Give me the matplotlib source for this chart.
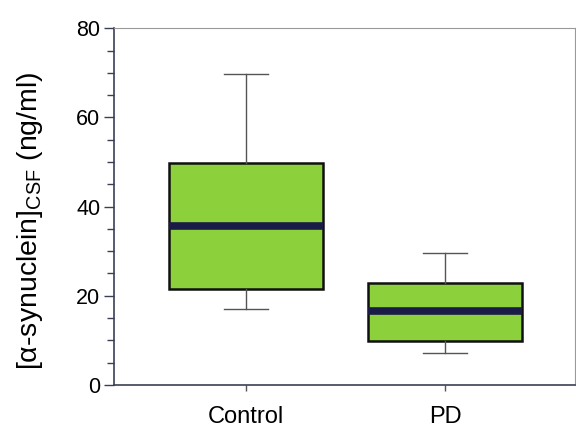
import matplotlib
matplotlib.use("Agg")
import matplotlib.pyplot as plt
from matplotlib.ticker import MultipleLocator

plt.rcParams['font.family'] = ['Liberation Sans', 'DejaVu Sans']
plt.rcParams['mathtext.fontset'] = 'custom'
plt.rcParams['mathtext.rm'] = 'Liberation Sans'

# data (ng/ml)
groups = ['Control', 'PD']
whislo = [17.0, 7.2]
q1 = [21.5, 9.9]
med = [35.6, 16.6]
q3 = [49.7, 22.9]
whishi = [69.8, 29.6]

stats = []
for i in range(len(groups)):
    stats.append(dict(label=groups[i], whislo=whislo[i], q1=q1[i], med=med[i],
                      q3=q3[i], whishi=whishi[i], fliers=[]))

fig = plt.figure(figsize=(5.76, 4.34), dpi=100)
ax = fig.add_axes([0.198, 0.113, 0.800, 0.822])

ax.bxp(stats, positions=[1, 2], widths=0.77, patch_artist=True, showfliers=False,
       boxprops=dict(facecolor='#8cd13c', edgecolor='#101010', linewidth=1.8),
       medianprops=dict(color='#1b1b48', linewidth=5.5, solid_capstyle='butt'),
       whiskerprops=dict(color='#555555', linewidth=1.0),
       capprops=dict(color='#555555', linewidth=1.0),
       capwidths=0.22)

ax.set_xlim(0.34, 2.65)
ax.set_ylim(0, 80)
ax.yaxis.set_major_locator(MultipleLocator(20))
ax.yaxis.set_minor_locator(MultipleLocator(5))
ax.tick_params(axis='y', which='major', length=7, width=1, color='#3a3f55', labelsize=15.5, pad=3)
ax.tick_params(axis='y', which='minor', length=5, width=1, color='#3a3f55')
ax.tick_params(axis='x', length=4, width=1, color='#555555', labelsize=17, pad=11)

for s in ['left', 'bottom']:
    ax.spines[s].set_color('#3a3f55')
    ax.spines[s].set_linewidth(1.2)
for s in ['top', 'right']:
    ax.spines[s].set_color('#999999')
    ax.spines[s].set_linewidth(0.8)

ax.set_ylabel('[α-synuclein]$_{\\mathrm{CSF}}$ (ng/ml)', fontsize=20.5)
ax.yaxis.set_label_coords(-0.15, 0.46)

fig.savefig('out.png', dpi=100)
